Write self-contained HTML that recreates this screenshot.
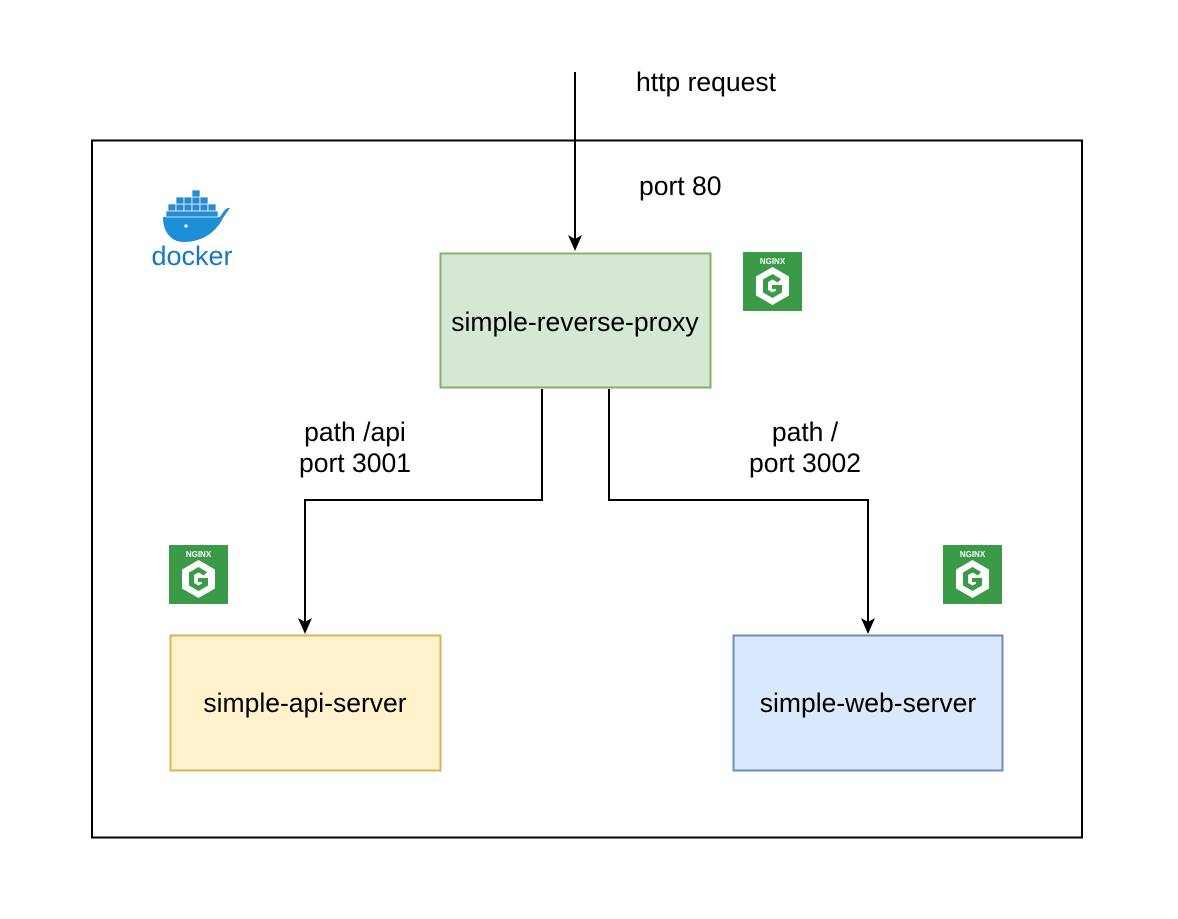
<!DOCTYPE html>
<html><head><meta charset="utf-8"><style>
html,body{margin:0;padding:0;background:#fff;}
svg{display:block;}
text{font-family:"Liberation Sans",Arial,sans-serif;font-size:26.5px;fill:#000;}
</style></head><body>
<svg width="1178" height="919" viewBox="0 0 1178 919" xmlns="http://www.w3.org/2000/svg">
<defs>
<symbol id="ngx" viewBox="0 0 59 59">
<rect x="0" y="0" width="59" height="59" fill="#3a9a48"/>
<text x="29.5" y="12" text-anchor="middle" style="font-size:8px;font-weight:bold;fill:#fff">NGINX</text>
<polygon points="29.5,15 46,24.5 46,43.5 29.5,53 13,43.5 13,24.5" fill="#fff"/>
<path d="M38,27 L29.5,22 L20,27.5 L20,40.5 L29.5,46 L39,40.5 L39,33 L29,33 L29,37 L33,37 L33,38.5 L29.5,40.5 L25,38 L25,30 L29.5,27.5 L35,30.5 Z" fill="#3a9a48"/>
</symbol>
</defs>
<rect x="92" y="140.5" width="990" height="697" fill="#fff" stroke="#000" stroke-width="2"/>
<!-- docker -->
<g>
<path d="M163,217 L220,217 C224,210 227,207 230,208 C227,212 225,215 223,218 C214,236 198,242 184,242 C171,242 163,232 163,217 Z" fill="#1d8fd6"/>
<g fill="#2a8cd0" stroke="#fff" stroke-width="0.7">
<rect x="168" y="204" width="8" height="7"/><rect x="176" y="204" width="8" height="7"/><rect x="184" y="204" width="8" height="7"/><rect x="192" y="204" width="8" height="7"/><rect x="200" y="204" width="8" height="7"/><rect x="208" y="204" width="8" height="7"/>
<rect x="176" y="197" width="8" height="7"/><rect x="184" y="197" width="8" height="7"/><rect x="192" y="197" width="8" height="7"/><rect x="200" y="197" width="8" height="7"/>
<rect x="192" y="190" width="8" height="7"/>
<rect x="166" y="211" width="52" height="6"/>
</g>
<circle cx="186" cy="226" r="1.6" fill="#fff"/>
<text x="192" y="265" text-anchor="middle" style="font-size:27px;fill:#1579bd">docker</text>
</g>
<!-- arrow in -->
<line x1="575" y1="72" x2="575" y2="244" stroke="#000" stroke-width="2"/>
<polygon points="575,251 568,235 575,239 582,235" fill="#000"/>
<text x="636" y="91">http request</text>
<text x="639" y="195">port 80</text>
<!-- proxy -->
<rect x="440.5" y="253.5" width="270" height="134" fill="#d5e8d4" stroke="#82b366" stroke-width="2"/>
<text x="575" y="331" text-anchor="middle">simple-reverse-proxy</text>
<use href="#ngx" x="743" y="252" width="59" height="59"/>
<!-- connectors -->
<polyline points="542,389 542,500 305,500 305,626" fill="none" stroke="#000" stroke-width="2"/>
<polygon points="305,634 298,618 305,622 312,618" fill="#000"/>
<polyline points="609,389 609,500 868,500 868,626" fill="none" stroke="#000" stroke-width="2"/>
<polygon points="868,634 861,618 868,622 875,618" fill="#000"/>
<text x="355" y="441" text-anchor="middle">path /api</text>
<text x="355" y="472" text-anchor="middle">port 3001</text>
<text x="805" y="441" text-anchor="middle">path /</text>
<text x="805" y="472" text-anchor="middle">port 3002</text>
<!-- api -->
<use href="#ngx" x="169" y="545" width="59" height="59"/>
<rect x="170.5" y="635.5" width="270" height="135" fill="#fff2cc" stroke="#d6b656" stroke-width="2"/>
<text x="305" y="712" text-anchor="middle">simple-api-server</text>
<!-- web -->
<use href="#ngx" x="943" y="545" width="59" height="59"/>
<rect x="733.5" y="635.5" width="269" height="135" fill="#dae8fc" stroke="#6c8ebf" stroke-width="2"/>
<text x="868" y="712" text-anchor="middle">simple-web-server</text>
</svg>
</body></html>
